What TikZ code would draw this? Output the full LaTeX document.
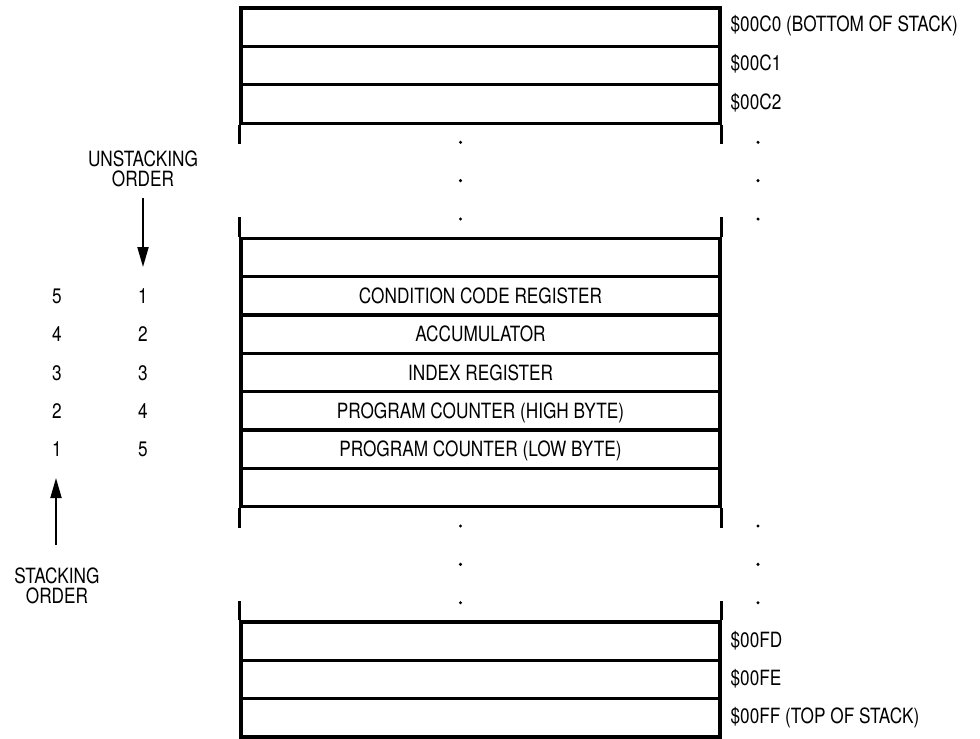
\documentclass[tikz,border=0pt]{standalone}
\usepackage{fontspec}
\setmainfont{TeX Gyre Heros}[FakeStretch=0.82]
\usetikzlibrary{arrows.meta}

\begin{document}
\begin{tikzpicture}[x=1pt, y=-1pt, line width=3.2pt, cell/.style={draw,minimum width=479pt,minimum height=38.37pt,inner sep=0pt,text height=15pt,text depth=0pt}, num/.style={inner sep=0pt,text height=15pt,text depth=0pt}, addr/.style={anchor=base west,inner sep=0pt}, order/.style={align=center,inner sep=0pt,anchor=north}, arr/.style={line width=2pt,-{Triangle[length=20pt,width=11pt]}}]
\useasboundingbox (0,0) rectangle (980,739);
\begin{scope}[every node/.style={font=\fontsize{21}{20.5}\selectfont}]
% stack cells
\node[cell] (r0) at (480.5,27.18) {};
\node[cell] (r1) at (480.5,65.55) {};
\node[cell] (r2) at (480.5,103.92) {};
\node[cell] (r6) at (480.5,257.41) {};
\node[cell] (r7) at (480.5,295.78) {CONDITION CODE REGISTER};
\node[cell] (r8) at (480.5,334.15) {ACCUMULATOR};
\node[cell] (r9) at (480.5,372.52) {INDEX REGISTER};
\node[cell] (r10) at (480.5,410.89) {PROGRAM COUNTER (HIGH BYTE)};
\node[cell] (r11) at (480.5,449.26) {PROGRAM COUNTER (LOW BYTE)};
\node[cell] (r12) at (480.5,487.63) {};
\node[cell] (r16) at (480.5,641.12) {};
\node[cell] (r17) at (480.5,679.49) {};
\node[cell] (r18) at (480.5,717.86) {};
% addresses
\node[addr] (a0) at (729,31.7) {\$00C0 (BOTTOM OF STACK)};
\node[addr] (a1) at (729,70.7) {\$00C1};
\node[addr] (a2) at (729,109) {\$00C2};
\node[addr] (a16) at (729,647) {\$00FD};
\node[addr] (a17) at (729,685.5) {\$00FE};
\node[addr] (a18) at (729,723.5) {\$00FF (TOP OF STACK)};
% stacking / unstacking numbers
\node[num] (s5) at (57,295.78) {5};
\node[num] (s4) at (57,334.15) {4};
\node[num] (s3) at (57,372.52) {3};
\node[num] (s2) at (57,410.89) {2};
\node[num] (s1) at (57,449.26) {1};
\node[num] (u1) at (143,295.78) {1};
\node[num] (u2) at (143,334.15) {2};
\node[num] (u3) at (143,372.52) {3};
\node[num] (u4) at (143,410.89) {4};
\node[num] (u5) at (143,449.26) {5};
\node[order] (unstack) at (143,149) {UNSTACKING\\ORDER};
\node[order] (stack) at (57,566) {STACKING\\ORDER};
\end{scope}
\begin{scope}
\draw (r2.south west) -- ++(0,19.2);
\draw (r2.south east) -- ++(0,19.2);
\draw (r6.north west) -- ++(0,-19.2);
\draw (r6.north east) -- ++(0,-19.2);
\draw (r12.south west) -- ++(0,19.2);
\draw (r12.south east) -- ++(0,19.2);
\draw (r16.north west) -- ++(0,-19.2);
\draw (r16.north east) -- ++(0,-19.2);
\foreach \y in {142.30,180.67,219.04,526.00,564.37,602.74} {
  \fill (460.5,\y) circle (1.7pt);
  \fill (758,\y) circle (1.7pt);
}
\coordinate (ua) at (143,198);
\coordinate (ub) at (143,267);
\coordinate (sa) at (56,545);
\coordinate (sb) at (56,478);
\draw[arr] (ua) -- (ub);
\draw[arr] (sa) -- (sb);
\end{scope}
\end{tikzpicture}
\end{document}
